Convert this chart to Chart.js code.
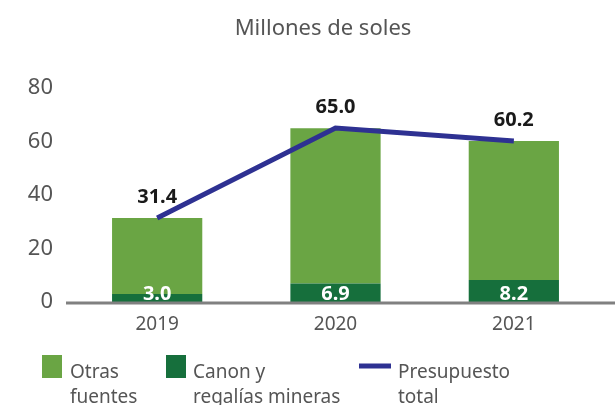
<!DOCTYPE html>
<html>
<head>
<meta charset="utf-8">
<script src="https://cdn.jsdelivr.net/npm/chart.js@4"></script>
<style>
  html, body { margin: 0; padding: 0; background: #fff; }
  #wrap { width: 615px; height: 405px; position: relative; }
</style>
</head>
<body>
<div id="wrap"><canvas id="chart" width="615" height="405"></canvas></div>
<script>
// --- DATA ---
const years = ['2019', '2020', '2021'];
const canonValues = [3.0, 6.9, 8.2];
const otrasValues = [28.4, 58.1, 52.0];
const totalValues = [31.4, 65.0, 60.2];
const yTicks = [0, 20, 40, 60, 80];

const titleText = 'Millones de soles';
const legendLines = {
    otras: ['Otras', 'fuentes'],
    canon: ['Canon y', 'regalías mineras'],
    total: ['Presupuesto', 'total']
};

// --- STYLE ---
const FONT = '"Noto Sans", sans-serif';
const GRAY = '#555555';
const LIGHT_GREEN = '#6aa544';
const DARK_GREEN = '#166f3c';
const NAVY = '#2e3192';

// title, baseline, value labels and legend
const extrasPlugin = {
    id: 'extras',
    afterDatasetsDraw(chart) {
        const { ctx, chartArea } = chart;
        ctx.save();
        // baseline
        ctx.strokeStyle = '#808080';
        ctx.lineWidth = 3;
        ctx.beginPath();
        ctx.moveTo(chartArea.left - 2, chartArea.bottom + 1);
        ctx.lineTo(chart.width, chartArea.bottom + 1);
        ctx.stroke();

        // total labels above the bars
        const topMeta = chart.getDatasetMeta(1);
        ctx.font = 'bold 20px ' + FONT;
        ctx.fillStyle = '#1a1a1a';
        ctx.textAlign = 'center';
        ctx.textBaseline = 'middle';
        topMeta.data.forEach((bar, i) => {
            ctx.fillText(totalValues[i].toFixed(1), bar.x, bar.y - 21);
        });

        // canon labels inside the bottom segment
        const canonMeta = chart.getDatasetMeta(0);
        ctx.fillStyle = '#ffffff';
        canonMeta.data.forEach((bar, i) => {
            ctx.fillText(canonValues[i].toFixed(1), bar.x, chartArea.bottom - 8);
        });
        ctx.restore();
    },
    afterDraw(chart) {
        const { ctx } = chart;
        ctx.save();
        // title
        ctx.font = '22px ' + FONT;
        ctx.fillStyle = GRAY;
        ctx.textAlign = 'center';
        ctx.textBaseline = 'middle';
        ctx.fillText(titleText, 323, 29);

        // legend
        ctx.font = '19px ' + FONT;
        ctx.textAlign = 'left';
        ctx.textBaseline = 'alphabetic';
        const drawLines = (lines, x) => {
            lines.forEach((line, i) => ctx.fillText(line, x, 378 + i * 25));
        };
        ctx.fillStyle = LIGHT_GREEN;
        ctx.fillRect(42, 355, 20, 23);
        ctx.fillStyle = GRAY;
        drawLines(legendLines.otras, 70);

        ctx.fillStyle = DARK_GREEN;
        ctx.fillRect(166, 355, 20, 23);
        ctx.fillStyle = GRAY;
        drawLines(legendLines.canon, 193);

        ctx.strokeStyle = NAVY;
        ctx.lineWidth = 5;
        ctx.beginPath();
        ctx.moveTo(359, 366);
        ctx.lineTo(391, 366);
        ctx.stroke();
        ctx.fillStyle = GRAY;
        drawLines(legendLines.total, 398);
        ctx.restore();
    }
};

new Chart(document.getElementById('chart'), {
    type: 'bar',
    data: {
        labels: years,
        datasets: [{
            label: 'Canon y regalías mineras',
            data: canonValues,
            backgroundColor: DARK_GREEN,
            barPercentage: 0.506,
            categoryPercentage: 1,
            order: 1
        }, {
            label: 'Otras fuentes',
            data: otrasValues,
            backgroundColor: LIGHT_GREEN,
            barPercentage: 0.506,
            categoryPercentage: 1,
            order: 1
        }, {
            type: 'line',
            label: 'Presupuesto total',
            data: totalValues,
            borderColor: NAVY,
            borderWidth: 5,
            pointRadius: 0,
            tension: 0,
            stack: 'total',
            order: 0
        }]
    },
    options: {
        responsive: false,
        animation: false,
        layout: { padding: { top: 88, right: 12, left: 0, bottom: 0 } },
        plugins: {
            legend: { display: false },
            title: { display: false },
            tooltip: { enabled: false }
        },
        scales: {
            x: {
                stacked: true,
                grid: { display: false, drawTicks: false },
                border: { display: false },
                ticks: { color: GRAY, font: { family: FONT, size: 19 }, padding: 11 },
                afterFit(scale) { scale.height = 103; }
            },
            y: {
                stacked: true,
                min: 0,
                max: 80,
                grid: { display: false, drawTicks: false },
                border: { display: false },
                afterBuildTicks(scale) { scale.ticks = yTicks.map(v => ({ value: v })); },
                ticks: { color: GRAY, font: { family: FONT, size: 22 }, padding: 15 },
                afterFit(scale) { scale.width = 68; }
            }
        }
    },
    plugins: [extrasPlugin]
});
</script>
</body>
</html>
